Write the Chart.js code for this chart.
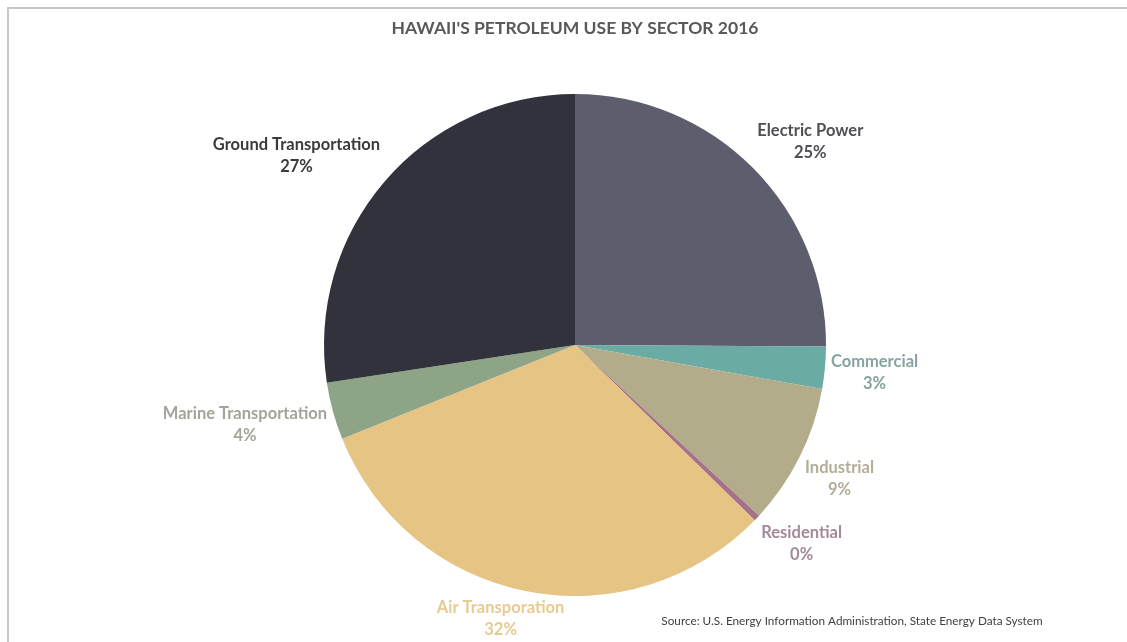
<!DOCTYPE html>
<html>
<head>
<meta charset="utf-8">
<script src="https://cdn.jsdelivr.net/npm/chart.js@4.4.0/dist/chart.umd.min.js"></script>
<style>
  html, body { margin: 0; padding: 0; background: #fff; }
  #wrap { width: 1127px; height: 642px; position: relative; }
</style>
</head>
<body>
<div id="wrap"><canvas id="pieChart"></canvas></div>
<script>
/* ========= DATA ========= */

const sectors = ["Electric Power", "Commercial", "Industrial", "Residential",
                 "Air Transporation", "Marine Transportation", "Ground Transportation"];
const shares = [25.1, 2.7, 9.1, 0.4, 31.6, 3.7, 27.4];
const pctLabels = ["25%", "3%", "9%", "0%", "32%", "4%", "27%"];

const sliceColors = ["#5c5e6e", "#6aaba3", "#b2ac8b", "#a5728a", "#e6c483", "#8ea487", "#32323d"];
const labelColors = ["#4f4f57", "#86a3a1", "#b3ae98", "#a28a98", "#e7cb93", "#a3a49a", "#3a3a3a"];

const titleText = "HAWAII'S PETROLEUM USE BY SECTOR 2016";
const sourceText = "Source: U.S. Energy Information Administration, State Energy Data System";


/* ========= PLUGIN: frame, title, labels ========= */

function clamp1(v) {
  return Math.max(-1, Math.min(1, v));
}

const decorPlugin = {
  id: "decor",
  beforeDraw(chart) {
    const ctx = chart.ctx;
    ctx.save();
    ctx.strokeStyle = "#c8c8c8";
    ctx.lineWidth = 2;
    ctx.beginPath();
    ctx.moveTo(8, 642);
    ctx.lineTo(8, 8);
    ctx.lineTo(1127, 8);
    ctx.stroke();
    ctx.restore();
  },
  afterDraw(chart) {
    const ctx = chart.ctx;
    ctx.save();
    ctx.textAlign = "center";
    ctx.textBaseline = "middle";

    ctx.fillStyle = "#595959";
    ctx.font = "bold 17.5px Lato";
    ctx.fillText(titleText, 575, 28);

    ctx.fillStyle = "#404040";
    ctx.font = "11.75px Lato";
    ctx.fillText(sourceText, 852, 621);

    // data labels: nearest corner of the label box sits just outside the rim
    const meta = chart.getDatasetMeta(0);
    ctx.font = "bold 16.5px Lato";
    meta.data.forEach((arc, i) => {
      const p = arc.getProps(["x", "y", "startAngle", "endAngle", "outerRadius"], true);
      const mid = (p.startAngle + p.endAngle) / 2;
      const ux = Math.cos(mid), uy = Math.sin(mid);
      const w = ctx.measureText(sectors[i]).width;
      const h = 44;
      const R = p.outerRadius + 6;
      const cx = p.x + ux * R + clamp1(ux * 2) * w / 2;
      const cy = p.y + uy * R + clamp1(uy * 2) * h / 2;
      ctx.fillStyle = labelColors[i];
      ctx.fillText(sectors[i], cx, cy - 11);
      ctx.fillText(pctLabels[i], cx, cy + 11);
    });
    ctx.restore();
  }
};


/* ========= CHART ========= */

new Chart(document.getElementById("pieChart"), {
  type: "pie",
  data: {
    labels: sectors,
    datasets: [{
      data: shares,
      backgroundColor: sliceColors,
      borderWidth: 0
    }]
  },
  options: {
    responsive: true,
    maintainAspectRatio: false,
    animation: false,
    layout: { padding: { top: 94, bottom: 46, left: 300, right: 277 } },
    plugins: {
      legend: { display: false },
      tooltip: { enabled: false }
    }
  },
  plugins: [decorPlugin]
});
</script>
</body>
</html>
